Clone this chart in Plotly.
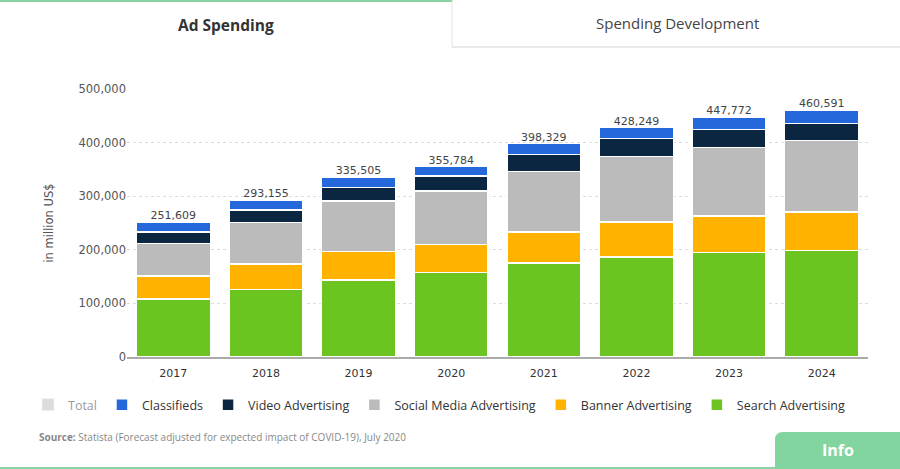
import plotly.graph_objects as go

years = ["2017", "2018", "2019", "2020", "2021", "2022", "2023", "2024"]
search = [108000, 126000, 144000, 158000, 175500, 187000, 195000, 198500]
banner = [43000, 47500, 53000, 52000, 58000, 64500, 68000, 72000]
social = [61000, 77000, 94000, 100000, 113000, 122500, 128000, 133000]
video = [21000, 24000, 25000, 28000, 31000, 34000, 33000, 32500]
classifieds = [18609, 18655, 19505, 17784, 20829, 20249, 23772, 24591]
totals = [251609, 293155, 335505, 355784, 398329, 428249, 447772, 460591]
total_labels = [f"{v:,}" for v in totals]

W, H = 900, 469
L, R, T, B = 127, 32, 89, 112
pw, ph = W - L - R, H - T - B

def px(x):
    return (x - L) / pw

def py(y):
    return (H - B - y) / ph

fig = go.Figure()
series = [
    ("Search Advertising", search, "#6CC420", 6),
    ("Banner Advertising", banner, "#FFB200", 5),
    ("Social Media Advertising", social, "#BBBBBB", 4),
    ("Video Advertising", video, "#0B2640", 3),
    ("Classifieds", classifieds, "#2468DC", 2),
]
for name, vals, col, rank in series:
    fig.add_trace(go.Bar(x=years, y=vals, name=name, marker_color=col,
                         marker_line=dict(color="white", width=1.5),
                         legendrank=rank, hoverinfo="skip"))
fig.add_trace(go.Bar(x=years, y=totals, name="Total", marker_color="#BBBBBB",
                     visible="legendonly", legendrank=1))
fig.add_trace(go.Scatter(x=years, y=totals, mode="text", text=total_labels,
                         textposition="top center", showlegend=False,
                         textfont=dict(family="DejaVu Sans", size=11, color="#444"),
                         cliponaxis=False, hoverinfo="skip"))

shapes = [
    dict(type="line", xref="paper", yref="paper", x0=px(452), x1=px(452), y0=py(0), y1=py(47),
         line=dict(color="#E3E3E3", width=1)),
    dict(type="line", xref="paper", yref="paper", x0=px(452), x1=px(900), y0=py(47), y1=py(47),
         line=dict(color="#E3E3E3", width=1.5)),
    dict(type="line", xref="paper", yref="paper", x0=px(0), x1=px(452), y0=py(1), y1=py(1),
         line=dict(color="#8BD3A3", width=2)),
    dict(type="line", xref="paper", yref="paper", x0=px(0), x1=px(900), y0=py(468), y1=py(468),
         line=dict(color="#8BD3A3", width=2)),
    dict(type="path", xref="paper", yref="paper",
         path=f"M {px(775)},{py(469)} L {px(775)},{py(440)} Q {px(775)},{py(432)} {px(783)},{py(432)} "
              f"L {px(900)},{py(432)} L {px(900)},{py(469)} Z",
         fillcolor="#82D59E", line=dict(width=0)),
]

def ann(text, x, y, size, color, xanchor="center"):
    return dict(text=text, x=px(x), y=py(y), xref="paper", yref="paper",
                xanchor=xanchor, yanchor="middle", showarrow=False,
                font=dict(family="Open Sans", size=size, color=color))

annotations = [
    ann("<b>Ad Spending</b>", 226, 25, 15.5, "#333"),
    ann("Spending Development", 677, 23, 15, "#444"),
    ann("<b>Source:</b> Statista (Forecast adjusted for expected impact of COVID-19), July 2020",
        37, 437, 10, "#888", xanchor="left"),
    ann("<b>Info</b>", 838, 450, 16, "white"),
]

fig.update_layout(
    width=W, height=H,
    margin=dict(l=L, r=R, t=T, b=B),
    barmode="stack", bargap=0.2,
    paper_bgcolor="white", plot_bgcolor="white",
    shapes=shapes, annotations=annotations,
    legend=dict(orientation="h", x=px(28), xanchor="left", y=py(405), yanchor="middle",
                traceorder="normal", font=dict(family="Open Sans", size=12.5, color="#333"),
                itemwidth=30,
                itemclick=False, itemdoubleclick=False),
    yaxis=dict(range=[0, 500000], tickvals=[0, 100000, 200000, 300000, 400000, 500000],
               ticktext=["0", "100,000", "200,000", "300,000", "400,000", "500,000"],
               showgrid=True, gridcolor="#DDDDDD", griddash="dot", zeroline=False,
               ticks="", ticklen=0, tickfont=dict(family="DejaVu Sans", size=11.5, color="#555"),
               title=dict(text="in million US$", font=dict(family="DejaVu Sans", size=11.5, color="#555"),
                          standoff=22)),
    xaxis=dict(showline=True, linecolor="#AAAAAA", linewidth=1.5, ticks="",
               ticklabelstandoff=5,
               tickfont=dict(family="DejaVu Sans", size=11, color="#333")),
    showlegend=True,
)

fig.write_html("out.html", config={"displayModeBar": False},
               post_script="document.body.style.margin='0';")
